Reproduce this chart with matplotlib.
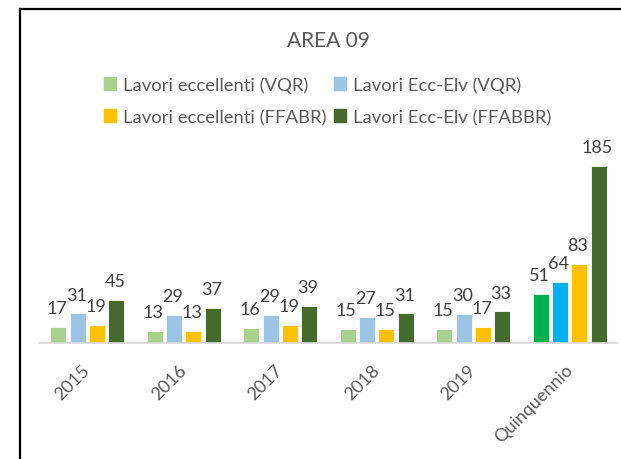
import numpy as np
import matplotlib
matplotlib.use("Agg")
import matplotlib.pyplot as plt
from matplotlib.patches import Patch
from matplotlib.lines import Line2D

categories = ["2015", "2016", "2017", "2018", "2019", "Quinquennio"]
series_names = ["Lavori eccellenti (VQR)", "Lavori Ecc-Elv (VQR)",
                "Lavori eccellenti (FFABR)", "Lavori Ecc-Elv (FFABBR)"]
exc_vqr = [17, 13, 16, 15, 15, 51]
eccelv_vqr = [31, 29, 29, 27, 30, 64]
exc_ffabr = [19, 13, 19, 15, 17, 83]
eccelv_ffabbr = [45, 37, 39, 31, 33, 185]

# colori: anni / quinquennio
year_colors = ["#A9D18E", "#9DC3E6", "#FFC000", "#446A2C"]
quinq_colors = ["#00B050", "#00B0F0", "#FFC000", "#446A2C"]

plt.rcParams['font.family'] = ['Lato', 'DejaVu Sans']


def main():
    fig = plt.figure(figsize=(6.21, 4.60), dpi=100)
    ax = fig.add_axes([39 / 621, 0.252, 579 / 621, 191.4 / 460])

    x = np.arange(len(categories))
    offsets = [-0.3, -0.1, 0.1, 0.3]
    data = [exc_vqr, eccelv_vqr, exc_ffabr, eccelv_ffabbr]
    for i in range(4):
        cols = [year_colors[i]] * (len(categories) - 1) + [quinq_colors[i]]
        bars = ax.bar(x + offsets[i], data[i], width=0.166, color=cols,
                      edgecolor="white", linewidth=0.6)
        for b, v in zip(bars, data[i]):
            ax.annotate(str(v), (b.get_x() + b.get_width() / 2, v),
                        xytext=(-1, 10), textcoords="offset points",
                        ha="center", va="baseline", fontsize=13,
                        color="#404040", annotation_clip=False)

    ax.set_xlim(-0.5, len(categories) - 0.5)
    ax.set_ylim(0, 200)
    ax.set_yticks([])
    ax.set_xticks(x)
    ax.set_xticklabels(categories, rotation=45, ha="right", va="center",
                       rotation_mode="anchor", fontsize=13, color="#595959")
    ax.tick_params(axis="x", length=0, pad=17)
    for s in ["top", "right", "left"]:
        ax.spines[s].set_visible(False)
    ax.spines["bottom"].set_color("#D9D9D9")
    ax.spines["bottom"].set_linewidth(1.2)
    ax.patch.set_alpha(0)

    fig.text(328 / 621, 1 - 41 / 460, "AREA 09", ha="center", va="center",
             fontsize=15, color="#595959")

    handles = [Patch(color=c) for c in year_colors]
    order = [0, 2, 1, 3]
    fig.legend([handles[k] for k in order], [series_names[k] for k in order],
               ncol=2, loc="center", bbox_to_anchor=(0.527, 0.7785),
               frameon=False, fontsize=13.3, handlelength=0.68,
               handleheight=0.68, handletextpad=0.35, columnspacing=0.4,
               labelspacing=0.85, labelcolor="#595959")

    # bordo dell'area grafico
    fig.add_artist(Line2D([19.5 / 621, 19.5 / 621], [0, 1 - 9.5 / 460],
                          color="black", linewidth=1.6))
    fig.add_artist(Line2D([19.5 / 621, 1], [1 - 9.5 / 460, 1 - 9.5 / 460],
                          color="black", linewidth=1.6))

    fig.savefig("out.png", dpi=100)


if __name__ == "__main__":
    main()
